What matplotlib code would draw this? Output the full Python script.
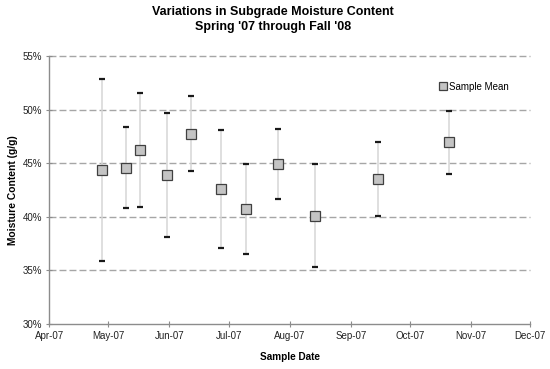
import matplotlib
matplotlib.use("Agg")
import matplotlib.pyplot as plt
import matplotlib.dates as mdates
from matplotlib.ticker import FuncFormatter
import numpy as np
import pandas as pd

plt.rcParams["font.family"] = ["Liberation Sans", "DejaVu Sans"]

# sample dates and moisture content (fraction, g/g)
sample_dates = ["2007-04-28", "2007-05-10", "2007-05-17", "2007-05-31", "2007-06-12",
                "2007-06-27", "2007-07-10", "2007-07-26", "2007-08-14", "2007-09-15",
                "2007-10-21"]
mean_vals = [0.4440, 0.4455, 0.4620, 0.4392, 0.4776, 0.4261, 0.4071, 0.4495, 0.4011, 0.4352, 0.4695]
max_vals = [0.5290, 0.4835, 0.5154, 0.4973, 0.5129, 0.4810, 0.4495, 0.4820, 0.4493, 0.4695, 0.4985]
min_vals = [0.3584, 0.4080, 0.4090, 0.3809, 0.4423, 0.3712, 0.3650, 0.4170, 0.3528, 0.4011, 0.4404]

dates = pd.to_datetime(sample_dates)
mean_vals = np.array(mean_vals)
max_vals = np.array(max_vals)
min_vals = np.array(min_vals)

fig = plt.figure(figsize=(5.5, 3.69), dpi=100)
ax = fig.add_axes([0.0896, 0.122, 0.874, 0.726])

# range bars (min to max) with caps, mean as grey square
ax.vlines(dates, min_vals, max_vals, color="#d6d6d6", linewidth=1.1, zorder=2)
ax.plot(dates, max_vals, linestyle="none", marker="_", markersize=5,
        markeredgewidth=1.6, color="#1a1a1a", zorder=3)
ax.plot(dates, min_vals, linestyle="none", marker="_", markersize=5,
        markeredgewidth=1.6, color="#1a1a1a", zorder=3)
ax.plot(dates, mean_vals, linestyle="none", marker="s", markersize=6.5,
        markerfacecolor="#c4c4c4", markeredgecolor="#404040",
        markeredgewidth=0.9, zorder=4, label="Sample Mean")

ax.set_xlim(pd.Timestamp("2007-04-01"), pd.Timestamp("2007-12-01"))
ax.set_ylim(0.30, 0.55)
ax.set_yticks(np.arange(0.30, 0.551, 0.05))
ax.yaxis.set_major_formatter(FuncFormatter(lambda v, p: f"{v*100:.0f}%"))
ax.xaxis.set_major_locator(mdates.MonthLocator())
ax.xaxis.set_major_formatter(mdates.DateFormatter("%b-%y"))

for v in np.arange(0.35, 0.551, 0.05):
    ax.axhline(v, color="#a6a6a6", linestyle=(0, (5, 2.2)), linewidth=1.0,
               zorder=1, clip_on=False)

for s in ["top", "right"]:
    ax.spines[s].set_visible(False)
for s in ["left", "bottom"]:
    ax.spines[s].set_color("#8c8c8c")
    ax.spines[s].set_linewidth(1.0)

ax.tick_params(axis="both", direction="inout", length=4, color="#8c8c8c",
               labelsize=7, labelcolor="#222222", pad=3)

ax.set_xlabel("Sample Date", fontsize=7.2, fontweight="bold")
ax.xaxis.set_label_coords(0.5, -0.104)
ax.set_ylabel("Moisture Content (g/g)", fontsize=7.4, fontweight="bold")
ax.yaxis.set_label_coords(-0.066, 0.5)

fig.text(0.497, 1 - 6 / 369,
         "Variations in Subgrade Moisture Content\nSpring '07 through Fall '08",
         ha="center", va="top", fontsize=9, fontweight="bold", linespacing=1.3)

ax.legend(loc="center left", bbox_to_anchor=(0.789, 0.765),
          bbox_transform=fig.transFigure, frameon=False, borderpad=0,
          fontsize=7, handletextpad=0.2, handlelength=0.8, markerscale=0.8)

fig.savefig("out.png", dpi=100)
